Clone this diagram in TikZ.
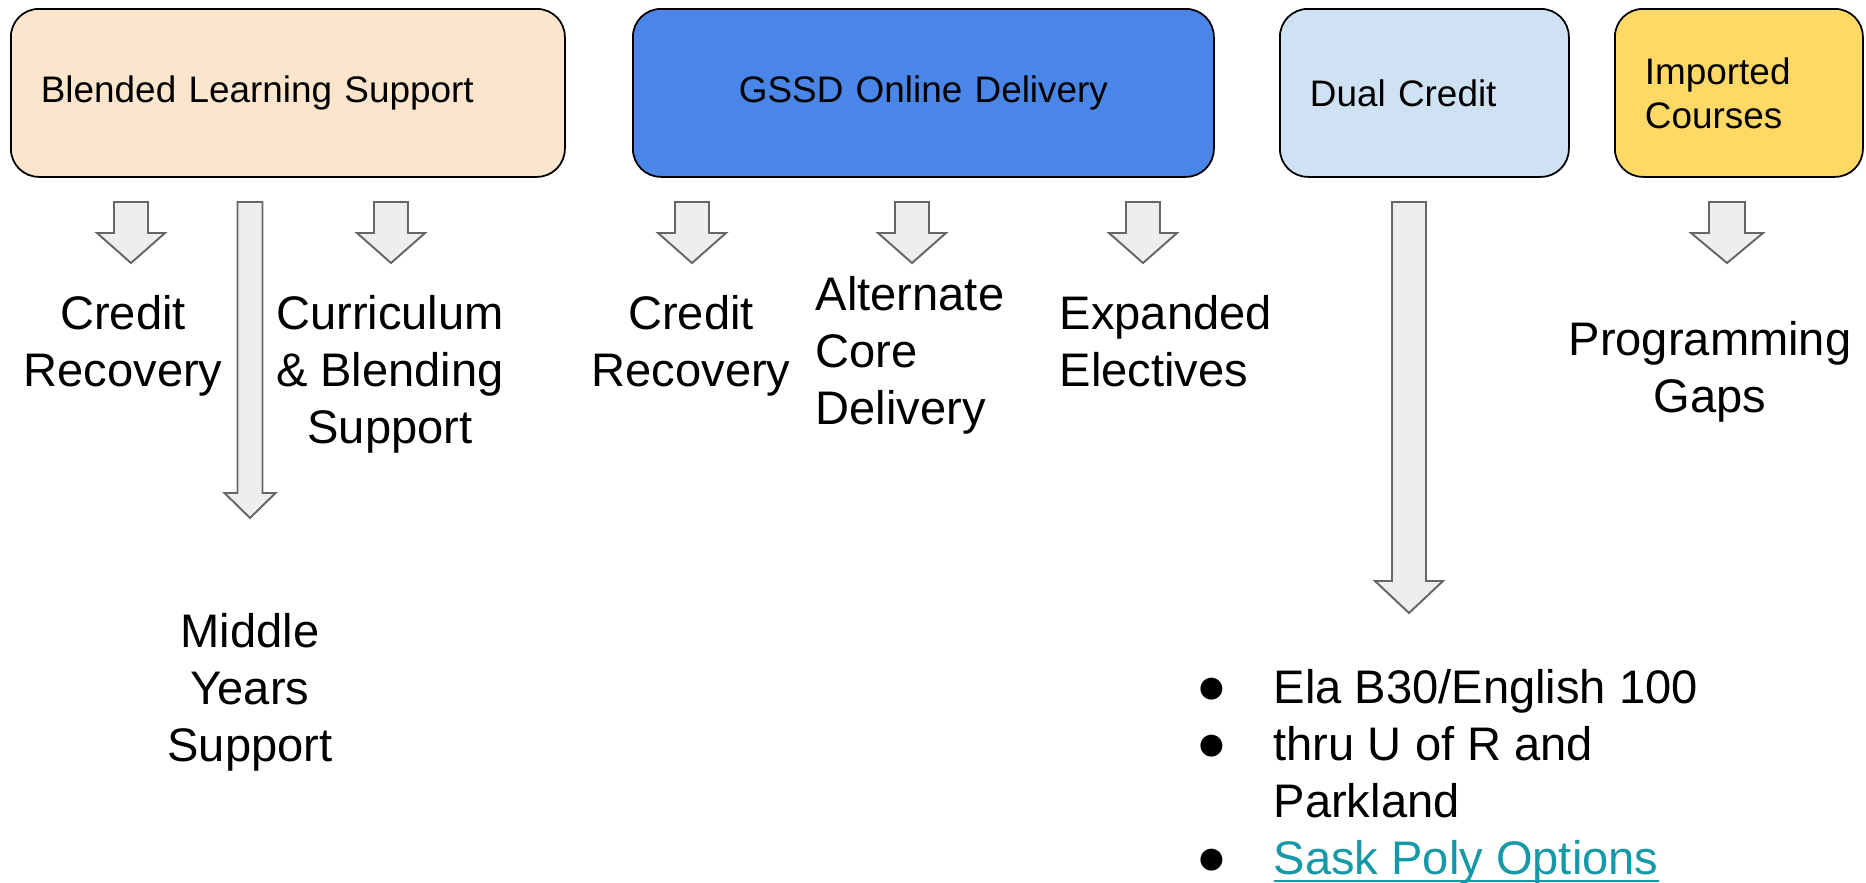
\documentclass[tikz,border=0pt]{standalone}
\usepackage{fontspec}
\setmainfont{Liberation Sans}
\usepackage{tikz}
\usepackage{xcolor}
\usetikzlibrary{positioning, calc}
\definecolor{blendpeach}{HTML}{FCE5CD}
\definecolor{gssdblue}{HTML}{4A86E8}
\definecolor{duallight}{HTML}{CFE2F3}
\definecolor{importyellow}{HTML}{FFD966}
\definecolor{arrowgray}{HTML}{666666}
\definecolor{arrowfill}{HTML}{EEEEEE}
\definecolor{linkteal}{HTML}{1598A8}
\tikzset{
    topbox/.style={draw=black, line width=0.5pt, rounded corners=2.8mm, minimum height=16.8mm,
        inner xsep=3mm, anchor=north west, font=\fontsize{10.5}{12.5}\selectfont},
    leftbox/.style={topbox, align=left},
    itemlabel/.style={align=center, inner sep=0pt, anchor=north, font=\fontsize{13.4}{16.2}\selectfont},
    leftlabel/.style={itemlabel, align=left, anchor=north west},
    blockarrow/.style={draw=arrowgray, fill=arrowfill, line width=0.55pt}
}
% block arrow: top, tip, shaft half width, head half width, head length
\newcommand{\blockarr}[5]{%
    \filldraw[blockarrow] let \p1=(#1), \p2=(#2) in
        (\x1-#3,\y1) -- (\x1+#3,\y1) -- (\x1+#3,\y2+#5) -- (\x1+#4,\y2+#5)
        -- (\x2,\y2) -- (\x1-#4,\y2+#5) -- (\x1-#3,\y2+#5) -- cycle;}
\newcommand{\smallarr}[2]{\blockarr{#1}{#2}{1.7mm}{3.4mm}{3.0mm}}
\newcommand{\linkline}[1]{\setbox0\hbox{#1}\rlap{\rule[-0.75mm]{\wd0}{0.25mm}}\box0}
\newcommand{\listdot}{\llap{\makebox[7.7mm][l]{\fontsize{14.5}{16.2}\selectfont●}}}

\begin{document}
\begin{tikzpicture}[x=0.1mm, y=-0.1mm]
    \useasboundingbox (0,0) rectangle (1866,882);

    % top row
    \node[leftbox, fill=blendpeach, text width=49.4mm] (blend) at (10,8) {Blended Learning Support};
    \node[topbox, fill=gssdblue, text width=52.1mm, align=center] (gssd) at (632,8) {GSSD Online Delivery};
    \node[leftbox, fill=duallight, text width=22.9mm] (dual) at (1279,8) {Dual Credit};
    \node[leftbox, fill=importyellow, text width=18.8mm] (imported) at (1614,8) {Imported\\Courses};

    % what each one leads to
    \node[itemlabel] (credrecA) at (123,295) {Credit\\Recovery};
    \node[itemlabel] (curric) at (390,295) {Curriculum\\\& Blending\\Support};
    \node[itemlabel] (middle) at (250,613) {Middle\\Years\\Support};
    \node[itemlabel] (credrecB) at (691,295) {Credit\\Recovery};
    \node[leftlabel] (altcore) at (815,276) {Alternate\\Core\\Delivery};
    \node[leftlabel] (electives) at (1059,295) {Expanded\\Electives};
    \node[itemlabel] (proggaps) at (1710,321) {Programming\\Gaps};
    \node[leftlabel] (duallist) at (1273,669)
        {\listdot Ela B30/English 100\\
         \listdot thru U of R and\\
         Parkland\\
         \listdot\textcolor{linkteal}{\linkline{Sask Poly Options}}};

    % arrow ends
    \coordinate (a1top) at (131,202);  \coordinate (a1tip) at (131,263);
    \coordinate (a2top) at (250,202);  \coordinate (a2tip) at (250,518);
    \coordinate (a3top) at (391,202);  \coordinate (a3tip) at (391,263);
    \coordinate (b1top) at (692,202);  \coordinate (b1tip) at (692,263);
    \coordinate (b2top) at (912,202);  \coordinate (b2tip) at (912,263);
    \coordinate (b3top) at (1143,202); \coordinate (b3tip) at (1143,263);
    \coordinate (c1top) at (1409,202); \coordinate (c1tip) at (1409,613);
    \coordinate (d1top) at (1727,202); \coordinate (d1tip) at (1727,263);

    \smallarr{a1top}{a1tip}
    \blockarr{a2top}{a2tip}{1.25mm}{2.55mm}{2.5mm}
    \smallarr{a3top}{a3tip}
    \smallarr{b1top}{b1tip}
    \smallarr{b2top}{b2tip}
    \smallarr{b3top}{b3tip}
    \blockarr{c1top}{c1tip}{1.7mm}{3.4mm}{3.2mm}
    \blockarr{d1top}{d1tip}{1.8mm}{3.6mm}{3.0mm}
\end{tikzpicture}
\end{document}
